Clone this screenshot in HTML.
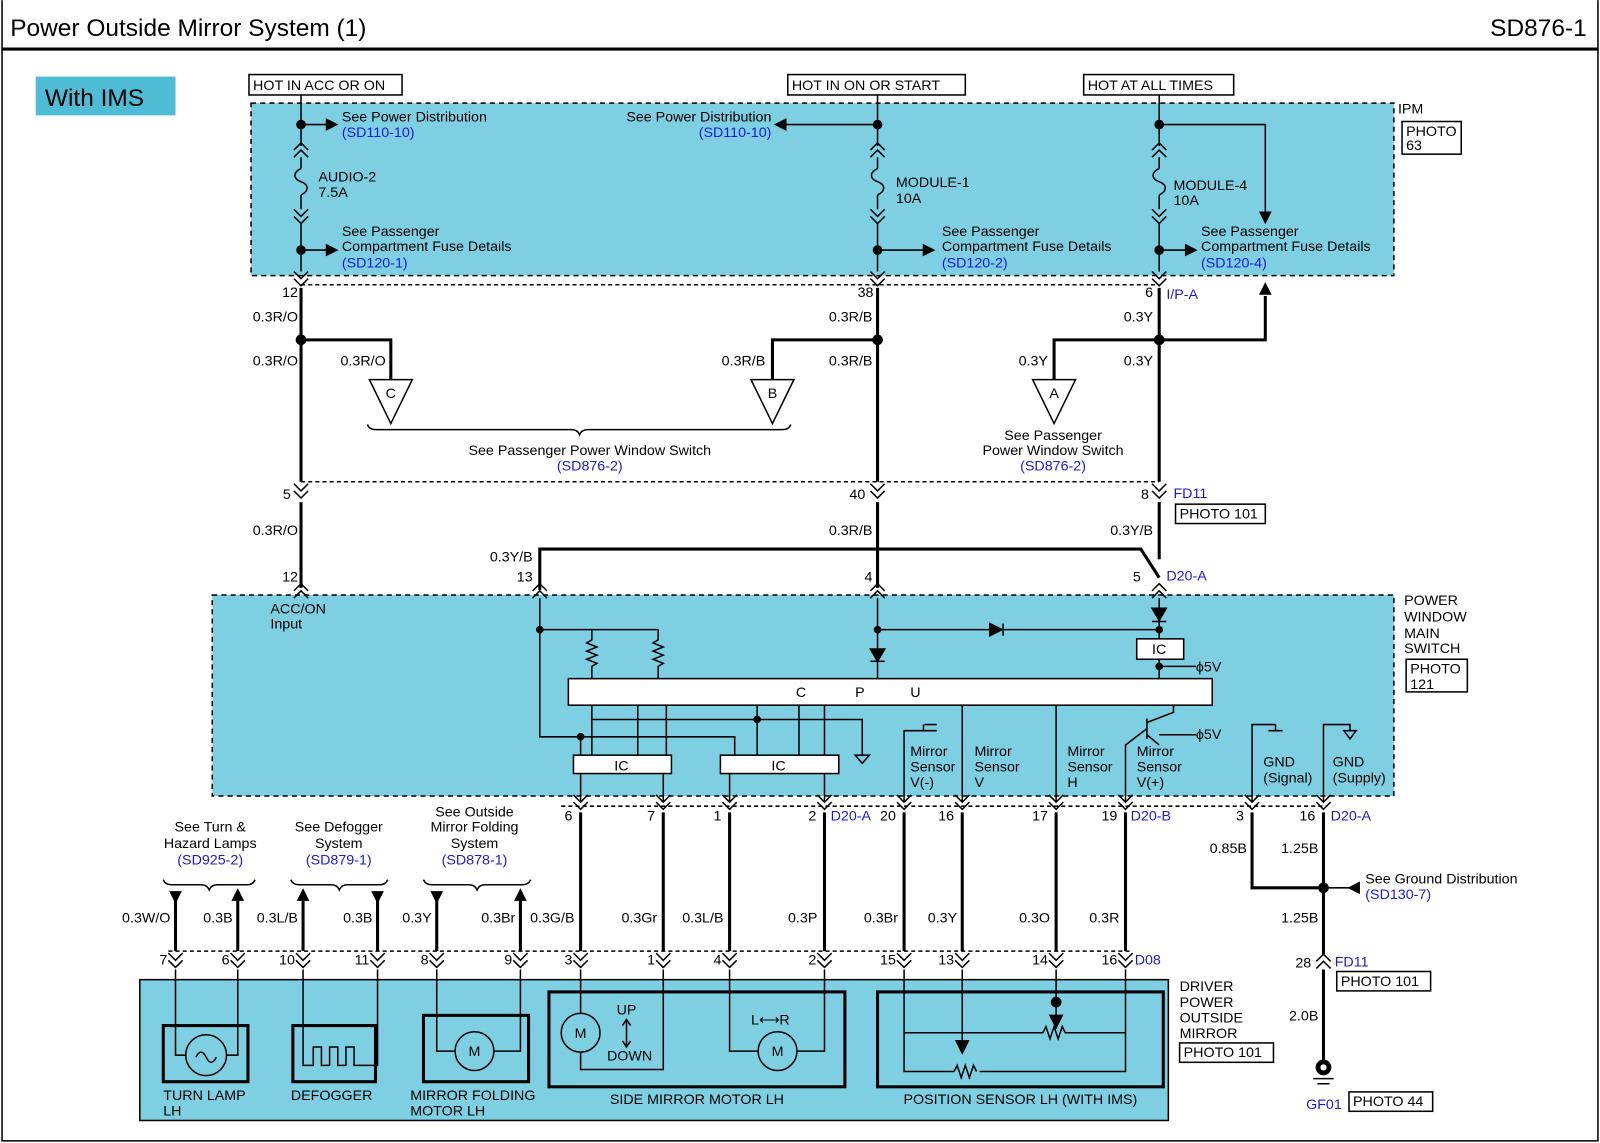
<!DOCTYPE html>
<html><head><meta charset="utf-8"><style>
html,body{margin:0;padding:0;background:#fff}
svg{display:block}
text{font-family:"Liberation Sans",Arial,sans-serif;font-size:14px;fill:#000}
.b{fill:#1a1ad8}
</style></head><body>
<svg id="s" width="1600" height="1143" viewBox="0 0 1568 1120" xmlns="http://www.w3.org/2000/svg">
<rect x="0" y="0" width="1568" height="1120" fill="#fff"/>
<g id="g" stroke="#000" fill="none" stroke-width="1.5"></g>
<g id="t"></g>
</svg>
<script>
const C="#7fcfe2";
let G='',T='';
function L(p,w){G+=`<path d="${p}" stroke-width="${w||1.5}"/>`;}
function W(p){L(p,3);}
function R(x,y,w,h,f,dash,sw){G+=`<rect x="${x}" y="${y}" width="${w}" height="${h}" fill="${f||'none'}" ${dash?'stroke-dasharray="5,4"':''} stroke-width="${sw||1.5}"/>`;}
function D(x,y,r){G+=`<circle cx="${x}" cy="${y}" r="${r||4}" fill="#000"/>`;}
function X(x,y,s,cls,anchor,size){T+=`<text x="${x}" y="${y}" ${cls?'class="'+cls+'"':''} ${anchor?'text-anchor="'+anchor+'"':''} ${size?'style="font-size:'+size+'px"':''}>${s}</text>`;}
function box(x,y,w,h,s){R(x,y,w,h,'#fff');X(x+4,y+h-5,s);}
function chd(x,y){L(`M${x-7} ${y}L${x} ${y+7}L${x+7} ${y}M${x-7} ${y+7}L${x} ${y+14}L${x+7} ${y+7}`);}
function chu(x,y){L(`M${x-7} ${y+7}L${x} ${y}L${x+7} ${y+7}M${x-7} ${y+14}L${x} ${y+7}L${x+7} ${y+14}`);}
function arR(x,y){G+=`<path d="M${x-10} ${y-5}L${x} ${y}L${x-10} ${y+5}Z" fill="#000"/>`;}
function arL(x,y){G+=`<path d="M${x+10} ${y-5}L${x} ${y}L${x+10} ${y+5}Z" fill="#000"/>`;}
function arD(x,y){G+=`<path d="M${x-5} ${y-10}L${x} ${y}L${x+5} ${y-10}Z" fill="#000"/>`;}
function arU(x,y){G+=`<path d="M${x-5} ${y+10}L${x} ${y}L${x+5} ${y+10}Z" fill="#000"/>`;}
function fuse(x,y){L(`M${x} ${y}c-8 4 -8 10 0 13c8 3 8 9 0 13`);}
// frame/title
L('M2 0V1118H1566V0',1.5);
L('M2 48H1566',3);
X(10,35,'Power Outside Mirror System (1)','', '',24);
X(1555,35,'SD876-1','','end',24);
G+=`<rect x="35" y="75" width="137" height="38" fill="#4fbcd6" stroke="none"/>`;
X(44,104,'With IMS','', '',24);
// IPM
R(246,101,1120,169,C,1);
box(244,73,150,20,'HOT IN ACC OR ON');box(772,73,174,20,'HOT IN ON OR START');box(1062,73,147,20,'HOT AT ALL TIMES');
X(1370,111,'IPM');box(1374,119,58,32,'');X(1378,133,'PHOTO');X(1378,147,'63');
[295,860,1136].forEach(x=>{L(`M${x} 93V143`);chu(x,140);L(`M${x} 154V165`);fuse(x,165);L(`M${x} 191V205`);chd(x,205);L(`M${x} 219V266`);chd(x,266);D(x,122);D(x,245);});
L('M295 122H320');arR(330,122);X(335,119,'See Power Distribution');X(335,134,'(SD110-10)','b');
L('M860 122H770');arL(760,122);X(756,119,'See Power Distribution','','end');X(756,134,'(SD110-10)','b','end');
L('M1136 122H1240V208');arD(1240,218);
X(312,178,'AUDIO-2');X(312,193,'7.5A');X(878,183,'MODULE-1');X(878,199,'10A');X(1150,186,'MODULE-4');X(1150,201,'10A');
L('M295 245H320');arR(330,245);X(335,231,'See Passenger');X(335,246,'Compartment Fuse Details');X(335,262,'(SD120-1)','b');
L('M860 245H905');arR(915,245);X(923,231,'See Passenger');X(923,246,'Compartment Fuse Details');X(923,262,'(SD120-2)','b');
L('M1136 245H1162');arR(1172,245);X(1177,231,'See Passenger');X(1177,246,'Compartment Fuse Details');X(1177,262,'(SD120-4)','b');
G+='<path d="M295 279H1136" stroke-dasharray="4,3"/>';
X(292,291,'12','','end');X(856,291,'38','','end');X(1130,291,'6','','end');X(1143,293,'I/P-A','b');
// wires mid
W('M295 282V472');W('M860 282V472');W('M1136 282V472');
X(292,315,'0.3R/O','','end');X(855,315,'0.3R/B','','end');X(1130,315,'0.3Y','','end');
X(292,358,'0.3R/O','','end');X(855,358,'0.3R/B','','end');X(1130,358,'0.3Y','','end');
D(295,333,4.5);D(860,333,4.5);D(1136,333,4.5);
W('M295 333H383V372');W('M860 333H757V372');W('M1136 333H1033V372');W('M1136 333H1240V290');arU(1240,278);
X(378,358,'0.3R/O','','end');X(750,358,'0.3R/B','','end');X(1027,358,'0.3Y','','end');
[[383,'C'],[757,'B'],[1033,'A']].forEach(([x,s])=>{L(`M${x-21} 372H${x+21}L${x} 415Z`);X(x,390,s,'','middle');});
L('M360 416q2 5 8 5H560q6 0 8 5q2 -5 8 -5H767q6 0 8 -5');
X(578,446,'See Passenger Power Window Switch','','middle');X(578,461,'(SD876-2)','b','middle');
X(1032,431,'See Passenger','','middle');X(1032,446,'Power Window Switch','','middle');X(1032,461,'(SD876-2)','b','middle');
G+='<path d="M295 472H1136" stroke-dasharray="4,3"/>';
[295,860,1136].forEach(x=>{chd(x,474);});
X(285,489,'5','','end');X(848,489,'40','','end');X(1126,489,'8','','end');X(1150,488,'FD11','b');box(1152,494,88,19,'PHOTO 101');
W('M295 492V576');W('M860 492V576');W('M1136 492V548');
X(292,524,'0.3R/O','','end');X(855,524,'0.3R/B','','end');X(1130,524,'0.3Y/B','','end');
W('M529 578V538H1118L1136 566');X(522,550,'0.3Y/B','','end');
X(292,570,'12','','end');X(522,570,'13','','end');X(855,570,'4','','end');X(1118,570,'5','','end');X(1143,569,'D20-A','b');
// switch box
R(208,583,1158,197,C,1);
[295,529,860,1136].forEach(x=>chu(x,572));
X(1376,593,'POWER');X(1376,609,'WINDOW');X(1376,625,'MAIN');X(1376,640,'SWITCH');box(1378,646,60,32,'');X(1382,660,'PHOTO');X(1382,675,'121');
X(265,601,'ACC/ON');X(265,616,'Input');
L('M529 586V722H569');D(529,617,3);L('M529 617H645');
[580,645].forEach(x=>L(`M${x} 617V627l-5 3l10 4l-10 4l10 4l-10 4l10 4l-5 3V665`));
R(557,665,631,26,'#fff');X(780,683,'C');X(838,683,'P');X(892,683,'U');
L('M860 586V665');D(860,617,3);G+='<path d="M853 636H867L860 648Z" fill="#000"/>';L('M853 648H867');
L('M860 617H1136');G+='<path d="M970 611V623L982 617Z" fill="#000"/>';L('M983 611V623');
L('M1136 586V626');G+='<path d="M1129 596H1143L1136 608Z" fill="#000"/>';L('M1129 609H1143');D(1136,617,3);
R(1114,626,46,20,'#fff');X(1129,641,'IC');L('M1136 646V665');D(1136,653,3);L('M1136 653H1172');X(1172,658,'ϕ5V');
// below CPU
L('M580 691V740M625 691V740M653 691V740M742 691V740M783 691V740M808 691V740');
L('M580 705H845V740');G+='<path d="M838 740H852L845 748Z" fill="none"/>';
D(742,705,3);L('M569 722H720V740');D(569,722,3);L('M569 722V740');
R(562,740,96,18,'#fff');X(602,755,'IC');R(706,740,116,18,'#fff');X(756,755,'IC');
[569,650,715,808].forEach(x=>{L(`M${x} 758V785`);chd(x,779);});
// sensors
L('M886 785V716H918M905 710V716');L('M906 710H918');
L('M943 691V785');L('M1035 691V785');
L('M1103 785V730L1124 714M1124 704V724M1124 720L1136 730M1124 708L1150 698V691M1136 720H1172');X(1172,724,'ϕ5V');
[886,943,1035,1103].forEach(x=>chd(x,779));
X(892,741,'Mirror');X(892,756,'Sensor');X(892,771,'V(-)');
X(955,741,'Mirror');X(955,756,'Sensor');X(955,771,'V');
X(1046,741,'Mirror');X(1046,756,'Sensor');X(1046,771,'H');
X(1114,741,'Mirror');X(1114,756,'Sensor');X(1114,771,'V(+)');
L('M1227 785V710H1250M1250 710V716M1243 716H1257');
L('M1297 785V710H1323V716');G+='<path d="M1317 716H1329L1323 724Z" fill="none"/>';
X(1238,751,'GND');X(1238,767,'(Signal)');X(1306,751,'GND');X(1306,767,'(Supply)');
[1227,1297].forEach(x=>chd(x,779));
G+='<path d="M550 790H1300" stroke-dasharray="4,3"/>';
[[569,'6'],[650,'7'],[715,'1'],[808,'2'],[886,'20'],[943,'16'],[1035,'17'],[1103,'19'],[1227,'3'],[1297,'16']].forEach(([x,s])=>X(x-8,804,s,'','end'));
X(814,804,'D20-A','b');X(1108,804,'D20-B','b');X(1304,804,'D20-A','b');
// lower wires
[569,650,715,808,886,943,1035,1103].forEach(x=>W(`M${x} 796V932`));
W('M1227 796V870H1297');W('M1297 796V935');D(1297,870,4.5);L('M1297 870H1328');arL(1322,870);
X(1338,866,'See Ground Distribution');X(1338,881,'(SD130-7)','b');
X(1222,836,'0.85B','','end');X(1292,836,'1.25B','','end');X(1292,904,'1.25B','','end');
[[565,'0.3G/B'],[646,'0.3Gr'],[711,'0.3L/B'],[803,'0.3P'],[882,'0.3Br'],[940,'0.3Y'],[1031,'0.3O'],[1099,'0.3R']].forEach(([x,s])=>X(x-2,904,s,'','end'));
// refs
X(206,815,'See Turn &amp;','','middle');X(206,831,'Hazard Lamps','','middle');X(206,847,'(SD925-2)','b','middle');
X(332,815,'See Defogger','','middle');X(332,831,'System','','middle');X(332,847,'(SD879-1)','b','middle');
X(465,800,'See Outside','','middle');X(465,815,'Mirror Folding','','middle');X(465,831,'System','','middle');X(465,847,'(SD878-1)','b','middle');
[[160,250],[285,380],[415,520]].forEach(([a,b])=>{const m=(a+b)/2;L(`M${a} 862q2 5 8 5H${m-8}q6 0 8 5q2 -5 8 -5H${b-8}q6 0 8 -5`);});
[[172,'d','0.3W/O'],[233,'u','0.3B'],[297,'u','0.3L/B'],[370,'d','0.3B'],[428,'d','0.3Y'],[510,'u','0.3Br']].forEach(([x,d,s])=>{W(`M${x} 880V932`);if(d=='d')arD(x,884);else arU(x,872);X(x-5,904,s,'','end');});
G+='<path d="M165 932H1108" stroke-dasharray="4,3"/>';
const pins=[[172,'7'],[233,'6'],[297,'10'],[370,'11'],[428,'8'],[510,'9'],[569,'3'],[650,'1'],[715,'4'],[808,'2'],[886,'15'],[943,'13'],[1035,'14'],[1103,'16']];
pins.forEach(([x,s])=>{chd(x,934);X(x-8,945,s,'','end');});X(1112,945,'D08','b');
// bottom box
R(137,960,1008,138,C);
X(1156,971,'DRIVER');X(1156,987,'POWER');X(1156,1002,'OUTSIDE');X(1156,1017,'MIRROR');box(1156,1022,92,19,'PHOTO 101');
R(160,1005,83,55,'none',0,3);R(287,1005,81,55,'none',0,3);R(415,995,103,65,'none',0,3);R(538,972,290,93,'none',0,3);R(860,972,280,93,'none',0,3);
L('M172 950V1034H182M233 950V1034H222');G+='<circle cx="202" cy="1034" r="20" fill="none"/>';L('M192 1036q5 -10 10 0q5 10 10 0');
L('M297 950V1044H307V1026H315V1044H323V1026H331V1044H339V1026H347V1044H357M370 950V1044H357');
L('M428 950V1030H446M510 950V1030H484');G+='<circle cx="465" cy="1030" r="19" fill="none"/>';X(465,1035,'M','','middle');
G+='<circle cx="569" cy="1012" r="19" fill="none"/>';X(569,1017,'M','','middle');L('M569 950V993M569 1031V1048H650V950');
X(614,994,'UP','','middle');X(617,1039,'DOWN','','middle');L('M614 1000V1025M610 1005L614 999L618 1005M610 1020L614 1026L618 1020');
G+='<circle cx="762" cy="1030" r="19" fill="none"/>';X(762,1035,'M','','middle');L('M715 950V1030H743M808 950V1030H781');
X(736,1004,'L⟷R');
L('M886 950V1050H935M943 950V1012M1035 950V980M1103 950V1050H960M886 1012H1022l3 -6l4 12l4 -12l4 12l4 -12l3 6H1103');
L('M935 1050l3 -6l4 12l4 -12l4 12l4 -12l3 6');
D(1035,982,4.5);G+='<path d="M1029 995H1041L1035 1007Z" fill="#000"/>';L('M1035 982V1000');
G+='<path d="M937 1020H949L943 1032Z" fill="#000"/>';L('M943 1012V1025');
X(160,1078,'TURN LAMP');X(160,1093,'LH');X(285,1078,'DEFOGGER');X(402,1078,'MIRROR FOLDING');X(402,1093,'MOTOR LH');
X(683,1082,'SIDE MIRROR MOTOR LH','','middle');X(1000,1082,'POSITION SENSOR LH (WITH IMS)','','middle');
// ground
chu(1297,935);X(1285,948,'28','','end');X(1308,947,'FD11','b');box(1310,952,92,19,'PHOTO 101');
W('M1297 950V1040');X(1292,1000,'2.0B','','end');
G+='<circle cx="1297" cy="1046" r="7" fill="#000"/><circle cx="1297" cy="1046" r="3" fill="#fff" stroke="none"/>';L('M1287 1057H1307M1291 1062H1303');
X(1280,1087,'GF01','b');box(1322,1070,82,19,'PHOTO 44');
document.getElementById('g').innerHTML=G;document.getElementById('t').innerHTML=T;
</script>
</body></html>
